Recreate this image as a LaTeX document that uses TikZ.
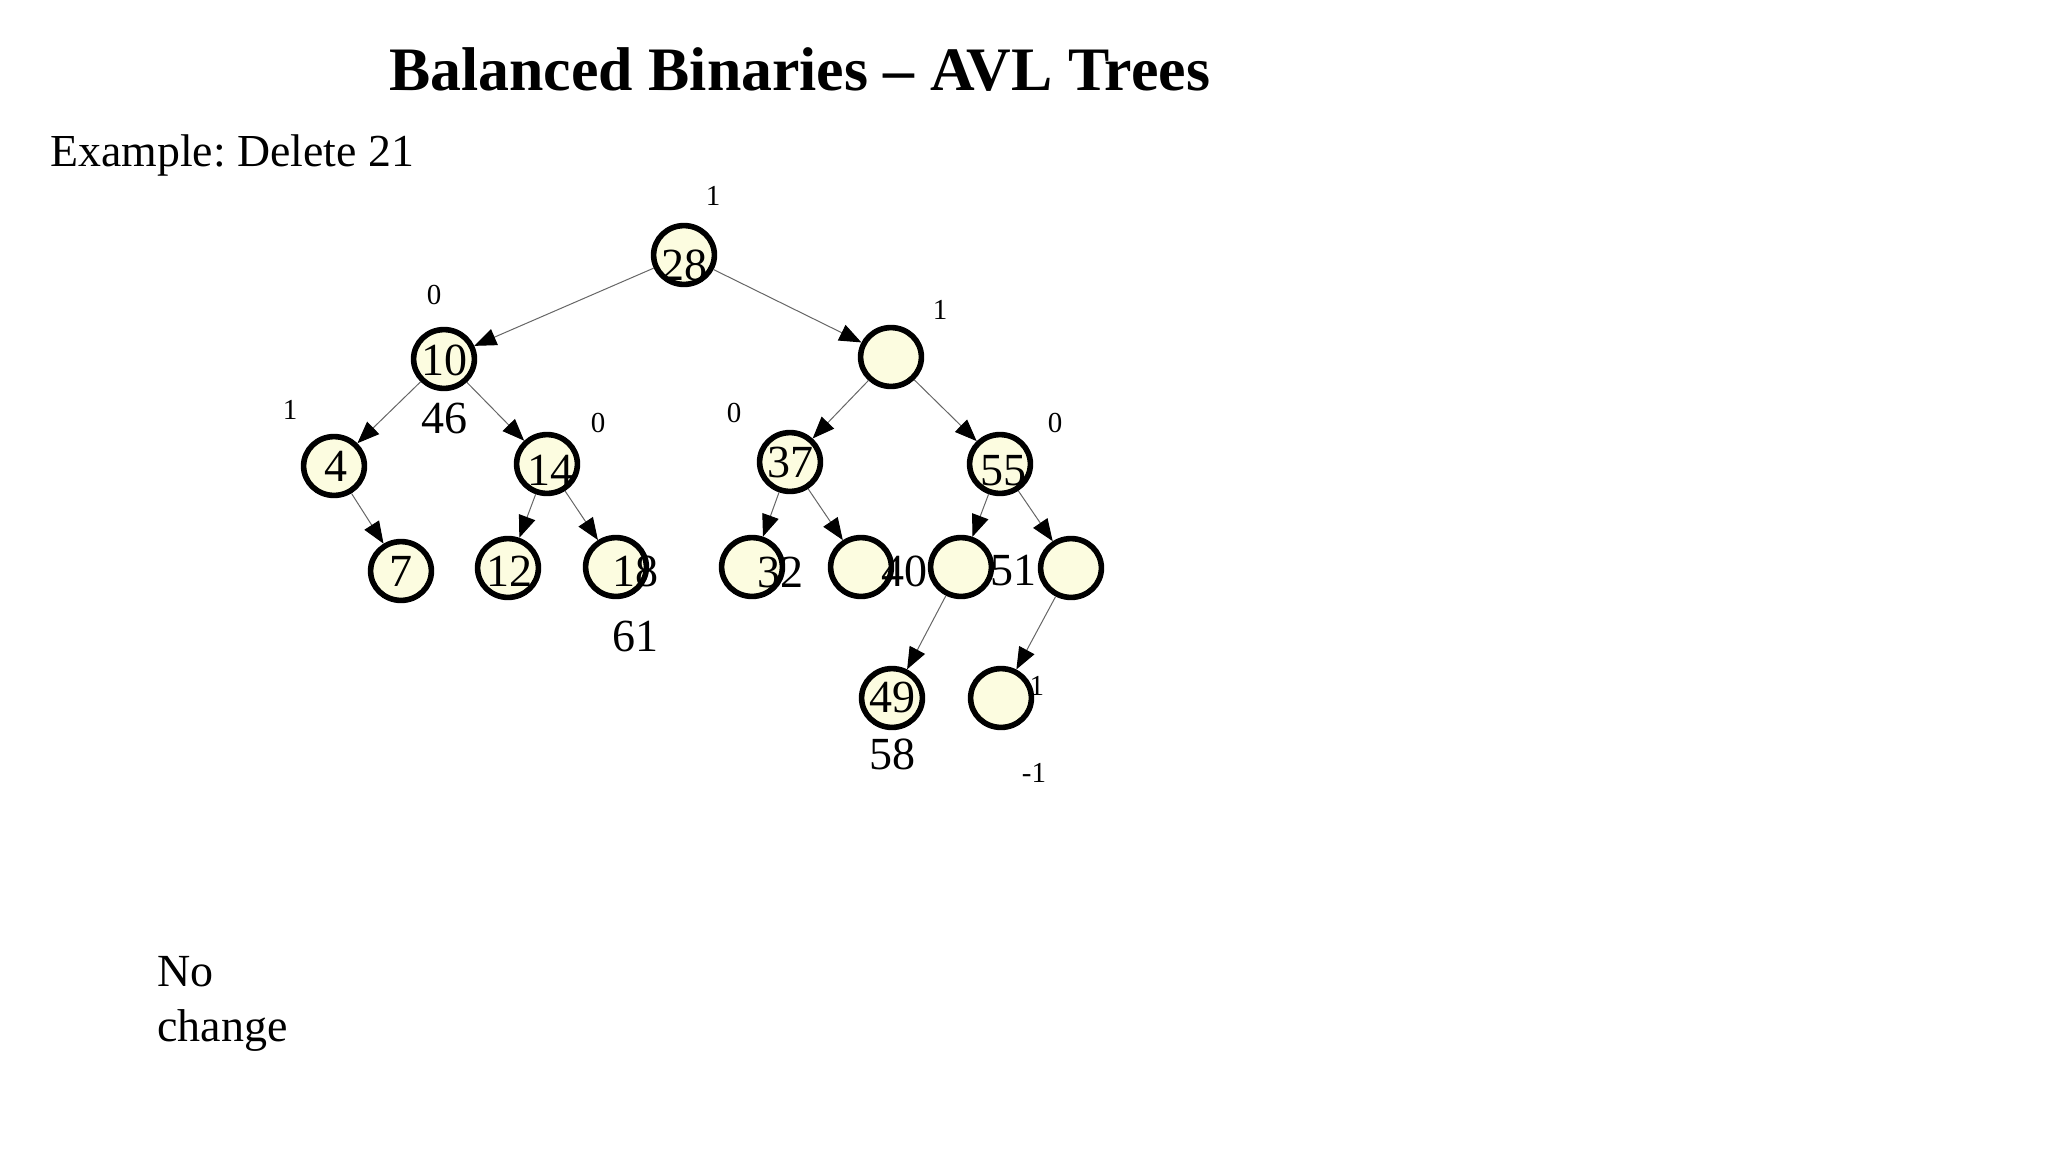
\documentclass[tikz,border=0pt]{standalone}
\usepackage{fontspec}
\setmainfont{Liberation Serif}
\usepackage{xcolor}
\usepackage{tikz}
\usetikzlibrary{arrows.meta, shapes.geometric}
\definecolor{avlfill}{RGB}{252,252,224}
\frenchspacing

\begin{document}
\begin{tikzpicture}[
  x=0.5pt, y=-0.5pt,
  avl/.style = {ellipse, draw=black, line width=2.8pt, fill=avlfill,
                minimum width=30.4pt, minimum height=29.4pt, inner sep=0pt},
  key/.style = {font=\fontsize{23}{27.5}\selectfont, inner sep=0pt},
  bal/.style = {font=\fontsize{14.5}{17}\selectfont, inner sep=0pt},
  arr/.style = {-{Triangle[length=11pt, width=8.6pt, color=black]},
                line width=0.5pt, black!60},
]
\useasboundingbox (0,0) rectangle (2048,1152);

%% ── Headings ────────────────────────────────────────────────────────────────
\node[font=\fontsize{30.9}{36}\selectfont\bfseries, anchor=base west, inner sep=0pt]
  (title) at (389,90) {Balanced Binaries – AVL Trees};
\node[key, font=\fontsize{22.9}{27.5}\selectfont, anchor=base west]
  (example) at (50,166) {Example: Delete 21};

%% ── hidden balance (under the bottom node) ──────────────────────────────────
\node[bal] (bHid) at (1032,686) {-1};

%% ── Row 0 / 1 ───────────────────────────────────────────────────────────────
\node[avl] (n28) at (684,255) {};
\node[avl] (n10) at (444,359) {};
\node[avl] (nR)  at (891,357) {};

%% ── Row 2 ───────────────────────────────────────────────────────────────────
\node[avl] (n4)  at (334,466) {};
\node[avl] (n14) at (547,464) {};
\node[avl] (n37) at (790,462) {};
\node[avl] (n55) at (1000,464) {};

%% ── Row 3 ───────────────────────────────────────────────────────────────────
\node[avl] (n7)  at (401,571) {};
\node[avl] (n12) at (508,568) {};
\node[avl] (n18) at (616,567) {};
\node[avl] (n32) at (752,567) {};
\node[avl] (n40) at (861,567) {};
\node[avl] (n51) at (961,567) {};
\node[avl] (nRc) at (1071,568) {};

%% ── Row 4 ───────────────────────────────────────────────────────────────────
\node[avl] (n49)  at (892,698) {};
\node[avl] (nBot) at (1001,698) {};

%% ── Edges ───────────────────────────────────────────────────────────────────
\draw[arr] (n28) -- (n10);
\draw[arr] (n28) -- (nR);
\draw[arr] (n10) -- (n4);
\draw[arr] (n10) -- (n14);
\draw[arr] (n4)  -- (n7);
\draw[arr] (n14) -- (n12);
\draw[arr] (n14) -- (n18);
\draw[arr] (nR)  -- (n37);
\draw[arr] (nR)  -- (n55);
\draw[arr] (n37) -- (n32);
\draw[arr] (n37) -- (n40);
\draw[arr] (n55) -- (n51);
\draw[arr] (n55) -- (nRc);
\draw[arr] (n51) -- (n49);
\draw[arr] (nRc) -- (nBot);

%% ── Keys ────────────────────────────────────────────────────────────────────
\node[key] (t28) at (684,265) {28};
\node[key] (t10) at (444,360) {10};
\node[key] (t46) at (444,418) {46};
\node[key] (t4)  at (336,466) {4};
\node[key] (t14) at (550,470) {14};
\node[key] (t37) at (790,462) {37};
\node[key] (t55) at (1003,471) {55};
\node[key] (t7)  at (401,571) {7};
\node[key] (t12) at (509,571) {12};
\node[key] (t18) at (635,571) {18};
\node[key] (t61) at (635,636) {61};
\node[key] (t32) at (780,572) {32};
\node[key] (t40) at (904,571) {40};
\node[key] (t51) at (1013,571) {51};
\node[key] (t49) at (892,697) {49};
\node[key] (t58) at (892,754) {58};

%% ── Balance factors ─────────────────────────────────────────────────────────
\node[bal] (b28) at (713,196) {1};
\node[bal] (b10) at (434,295) {0};
\node[bal] (bR)  at (940,310) {1};
\node[bal] (b4)  at (290,410) {1};
\node[bal] (b14) at (598,423) {0};
\node[bal] (b37) at (734,413) {0};
\node[bal] (b55) at (1055,423) {0};
\node[bal] (bLow) at (1034,773) {-1};

%% ── Note ────────────────────────────────────────────────────────────────────
\node[key, anchor=base west, align=left] (note) at (157,1041) {No\\change};

\end{tikzpicture}
\end{document}
